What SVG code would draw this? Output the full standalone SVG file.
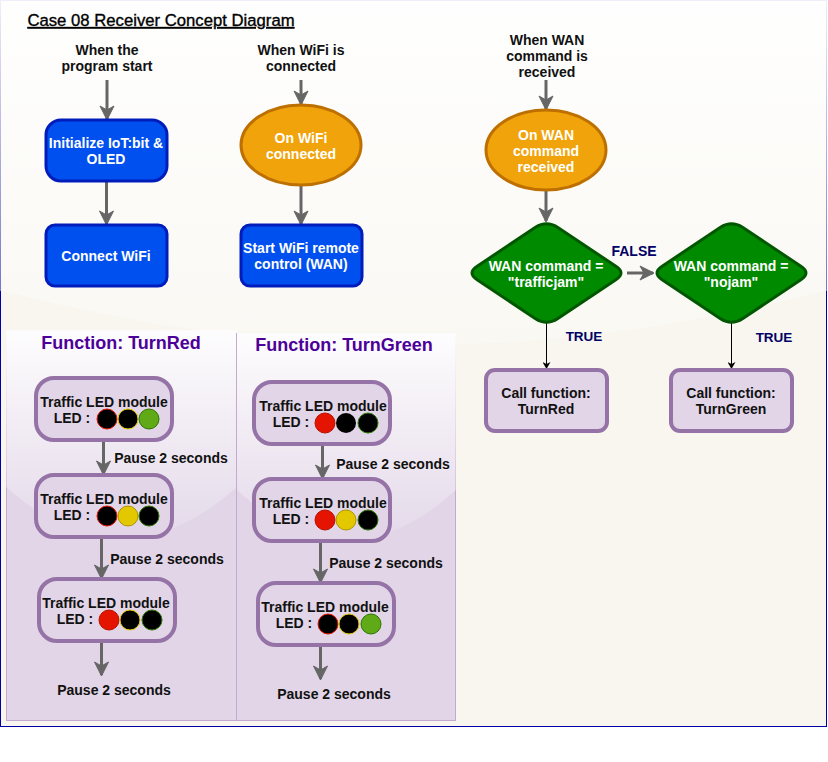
<svg xmlns="http://www.w3.org/2000/svg" width="828" height="762" viewBox="0 0 828 762">
<style>
text{font-family:"Liberation Sans",Arial,sans-serif;font-size:14px;text-anchor:middle;font-weight:bold;fill:#111}
.w{fill:#fff}
.h{font-size:18px;fill:#4c0099}
.n{fill:#000066;font-size:13.500px}
.blue{fill:#0050ef;stroke:#001dbc;stroke-width:3}
.or{fill:#f0a30a;stroke:#bd7000;stroke-width:3}
.gr{fill:#008a00;stroke:#005700;stroke-width:3;stroke-linejoin:round}
.pu{fill:#e1d5e7;stroke:#9673a6;stroke-width:4}
.ar{stroke:#666;stroke-width:3;fill:none;marker-end:url(#ah)}
.thin{stroke:#000;stroke-width:1;fill:none;marker-end:url(#bh)}
.k{fill:#000}
</style>
<defs>
<linearGradient id="edge" x1="0" y1="0" x2="0" y2="1"><stop offset="0" stop-color="#eeeefa"/><stop offset=".4" stop-color="#7474cc"/><stop offset=".4" stop-color="#0000a8"/><stop offset="1" stop-color="#0000a8"/></linearGradient>
<linearGradient id="glass" x1="0" y1="0" x2="0" y2="1"><stop offset="0" stop-color="#fff" stop-opacity=".95"/><stop offset="1" stop-color="#fff" stop-opacity=".25"/></linearGradient>
<linearGradient id="glass2" x1="0" y1="0" x2="0" y2="1"><stop offset="0" stop-color="#fff" stop-opacity=".95"/><stop offset="1" stop-color="#fff" stop-opacity=".1"/></linearGradient>
<marker id="ah" viewBox="0 0 16 16" refX="14" refY="8" markerWidth="16" markerHeight="16" markerUnits="userSpaceOnUse" orient="auto"><path d="M1 1L15 8L1 15L5 8Z" fill="#666" stroke="#666"/></marker>
<marker id="bh" viewBox="0 0 8 8" refX="7" refY="4" markerWidth="8" markerHeight="8" markerUnits="userSpaceOnUse" orient="auto"><path d="M0 0L7 4L0 8L2 4Z" fill="#000"/></marker>
</defs>

<g id="background">
<rect x=".5" y=".5" width="826" height="726" fill="#f8f6ef" stroke="url(#edge)"/>
<path d="M1 1H826V290Q413 400 1 290Z" fill="url(#glass)"/>
</g>

<text x="161" y="26" style="font-size:16.700px;font-weight:normal;fill:#000;stroke:#000;stroke-width:.35;text-decoration:underline">Case 08 Receiver Concept Diagram</text>

<g id="panel-red">
<rect x="6.500" y="330.500" width="230" height="390" fill="#e1d5e7" stroke="#c3abd0"/>
<path d="M6 330H237V487Q121 590 6 487Z" fill="url(#glass2)"/>
<text class="h" x="121" y="349">Function: TurnRed</text>
</g>
<g id="panel-green">
<rect x="236.500" y="333.500" width="219" height="387" fill="#e1d5e7" stroke="#c3abd0"/>
<path d="M237 333H456V490Q346 590 237 490Z" fill="url(#glass2)"/>
<text class="h" x="344" y="351">Function: TurnGreen</text>
</g>

<g id="connectors">
<path class="ar" d="M107 80V119"/>
<path class="ar" d="M106.500 181V224"/>
<path class="ar" d="M301 80V104"/>
<path class="ar" d="M301 186V224"/>
<path class="ar" d="M546 80V109"/>
<path class="ar" d="M546 191V221"/>
<path class="ar" d="M627 273H653"/>
<path class="thin" d="M546.500 323V369"/>
<path class="thin" d="M731.500 323V369"/>
<path class="ar" d="M103.500 441V474"/>
<path class="ar" d="M101.500 538V578"/>
<path class="ar" d="M101.500 643V675"/>
<path class="ar" d="M322.500 445V478"/>
<path class="ar" d="M320.500 542V582"/>
<path class="ar" d="M320.500 647V679"/>
</g>

<g id="t1"><text x="107" y="55">When the</text><text x="107" y="71">program start</text></g>
<g id="t2"><text x="301" y="55">When WiFi is</text><text x="301" y="71">connected</text></g>
<g id="t3"><text x="547" y="45">When WAN</text><text x="547" y="61">command is</text><text x="547" y="77">received</text></g>

<g id="init"><rect class="blue" x="46" y="120" width="121" height="61" rx="15"/><text class="w" x="106" y="148">Initialize IoT:bit &amp;</text><text class="w" x="106" y="164">OLED</text></g>
<g id="wifi"><rect class="blue" x="46" y="225" width="121" height="61" rx="9"/><text class="w" x="106" y="261">Connect WiFi</text></g>
<g id="onwifi"><ellipse class="or" cx="301" cy="145" rx="60" ry="40"/><text class="w" x="301" y="143">On WiFi</text><text class="w" x="301" y="159">connected</text></g>
<g id="startwan"><rect class="blue" x="241" y="225" width="121" height="61" rx="9"/><text class="w" x="301" y="253">Start WiFi remote</text><text class="w" x="301" y="269">control (WAN)</text></g>
<g id="onwan"><ellipse class="or" cx="546" cy="150" rx="60" ry="40"/><text class="w" x="546" y="140">On WAN</text><text class="w" x="546" y="156">command</text><text class="w" x="546" y="172">received</text></g>
<g id="d1"><path class="gr" d="M535.500 227.300Q546.500 220.300 557.500 227.300L615.500 266Q626.500 273 615.500 280L557.500 318.700Q546.500 325.700 535.500 318.700L477.500 280Q466.500 273 477.500 266Z"/><text class="w" x="546" y="271">WAN command =</text><text class="w" x="546" y="287">"trafficjam"</text></g>
<g id="d2"><path class="gr" d="M720.500 227.300Q731.500 220.300 742.500 227.300L800.500 266Q811.500 273 800.500 280L742.500 318.700Q731.500 325.700 720.500 318.700L662.500 280Q651.500 273 662.500 266Z"/><text class="w" x="731" y="271">WAN command =</text><text class="w" x="731" y="287">"nojam"</text></g>
<text class="n" x="634" y="256" style="font-size:14px">FALSE</text>
<text class="n" x="584" y="341">TRUE</text>
<text class="n" x="774" y="342">TRUE</text>
<g id="c1"><rect class="pu" x="486" y="370" width="121" height="61" rx="9"/><text x="546" y="398">Call function:</text><text x="546" y="414">TurnRed</text></g>
<g id="c2"><rect class="pu" x="671" y="370" width="121" height="61" rx="9"/><text x="731" y="398">Call function:</text><text x="731" y="414">TurnGreen</text></g>

<g id="r1"><rect class="pu" x="36" y="378" width="136" height="62" rx="18"/><text x="104" y="407">Traffic LED module</text><text x="72" y="423">LED :</text>
<circle class="k" cx="107" cy="419" r="10" stroke="#e51400"/><circle class="k" cx="128" cy="419" r="10" stroke="#e3c800"/><circle cx="149" cy="419" r="10" fill="#60a917" stroke="#2d7600"/></g>
<g id="r2"><rect class="pu" x="36" y="475" width="136" height="62" rx="18"/><text x="104" y="504">Traffic LED module</text><text x="72" y="520">LED :</text>
<circle class="k" cx="107" cy="516" r="10" stroke="#e51400"/><circle cx="128" cy="516" r="10" fill="#e3c800" stroke="#b09500"/><circle class="k" cx="149" cy="516" r="10" stroke="#2d7600"/></g>
<g id="r3"><rect class="pu" x="39" y="579" width="136" height="62" rx="18"/><text x="106" y="608">Traffic LED module</text><text x="75" y="624">LED :</text>
<circle cx="109" cy="620" r="10" fill="#e51400" stroke="#b81000"/><circle class="k" cx="130" cy="620" r="10" stroke="#e3c800"/><circle class="k" cx="152" cy="620" r="10" stroke="#2d7600"/></g>
<g id="g1"><rect class="pu" x="254" y="382" width="136" height="62" rx="18"/><text x="323" y="411">Traffic LED module</text><text x="291" y="427">LED :</text>
<circle cx="325" cy="423" r="10" fill="#e51400" stroke="#b81000"/><circle class="k" cx="346" cy="423" r="10"/><circle class="k" cx="368" cy="423" r="10" stroke="#2d7600"/></g>
<g id="g2"><rect class="pu" x="254" y="479" width="136" height="62" rx="18"/><text x="323" y="508">Traffic LED module</text><text x="291" y="524">LED :</text>
<circle cx="325" cy="520" r="10" fill="#e51400" stroke="#b81000"/><circle cx="346" cy="520" r="10" fill="#e3c800" stroke="#b09500"/><circle class="k" cx="368" cy="520" r="10" stroke="#2d7600"/></g>
<g id="g3"><rect class="pu" x="258" y="583" width="136" height="62" rx="18"/><text x="325" y="612">Traffic LED module</text><text x="294" y="628">LED :</text>
<circle class="k" cx="328" cy="624" r="10" stroke="#e51400"/><circle class="k" cx="349" cy="624" r="10" stroke="#e3c800"/><circle cx="371" cy="624" r="10" fill="#60a917" stroke="#2d7600"/></g>

<g id="pauses">
<text x="171" y="463">Pause 2 seconds</text>
<text x="167" y="564">Pause 2 seconds</text>
<text x="114" y="695">Pause 2 seconds</text>
<text x="393" y="469">Pause 2 seconds</text>
<text x="386" y="568">Pause 2 seconds</text>
<text x="334" y="699">Pause 2 seconds</text>
</g>
</svg>
